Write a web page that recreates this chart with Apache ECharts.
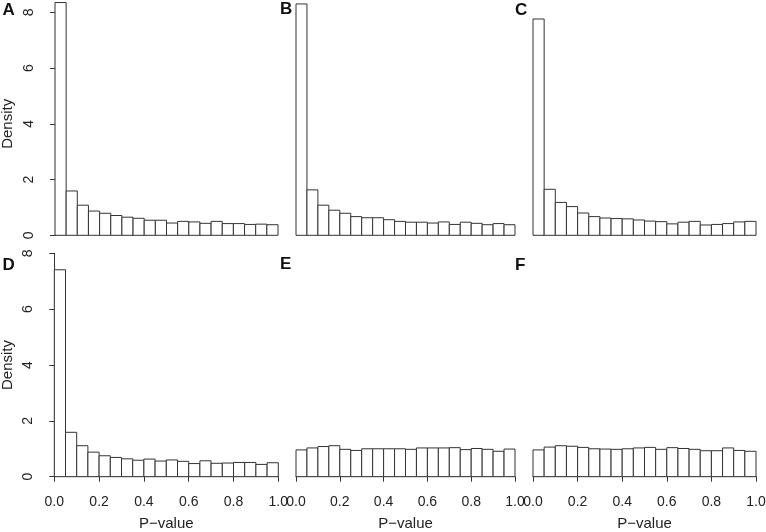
<!DOCTYPE html>
<html>
<head>
<meta charset="utf-8">
<script src="https://cdn.jsdelivr.net/npm/echarts@6/dist/echarts.min.js"></script>
<style>
html,body{margin:0;padding:0;background:#fff;}
#chart{width:766px;height:532px;}
</style>
</head>
<body>
<div id="chart"></div>
<script>
const binEdges = [0,0.05,0.1,0.15,0.2,0.25,0.3,0.35,0.4,0.45,0.5,0.55,0.6,0.65,0.7,0.75,0.8,0.85,0.9,0.95,1.0];
const panelLabels = ['A','B','C','D','E','F'];
const xTickLabels = ['0.0','0.2','0.4','0.6','0.8','1.0'];
const yTickLabels = ['0','2','4','6','8'];
const densityA = [8.35,1.59,1.08,0.87,0.79,0.71,0.65,0.61,0.54,0.54,0.44,0.50,0.48,0.43,0.50,0.42,0.42,0.39,0.40,0.38];
const densityB = [8.30,1.63,1.08,0.90,0.79,0.67,0.63,0.63,0.56,0.50,0.47,0.47,0.44,0.48,0.39,0.47,0.43,0.38,0.42,0.38];
const densityC = [7.76,1.65,1.18,1.03,0.80,0.67,0.62,0.60,0.59,0.55,0.51,0.49,0.41,0.47,0.50,0.37,0.39,0.42,0.48,0.50];
const densityD = [7.41,1.59,1.11,0.88,0.75,0.69,0.64,0.59,0.63,0.56,0.60,0.55,0.47,0.57,0.48,0.49,0.51,0.51,0.44,0.50];
const densityE = [0.96,1.03,1.08,1.11,0.98,0.94,1.00,1.00,1.00,1.00,0.98,1.03,1.03,1.03,1.04,0.97,1.01,0.98,0.91,0.99];
const densityF = [0.96,1.06,1.11,1.09,1.05,1.00,0.99,0.98,1.00,1.03,1.05,0.98,1.04,1.01,0.98,0.93,0.93,1.03,0.94,0.91];
const panels = [densityA, densityB, densityC, densityD, densityE, densityF];

const FONT = "'Liberation Sans', Arial, Helvetica, sans-serif";
const INK = '#333';

// layout (pixels)
const gridBoxes = [
  {left:55,  top:12.3,  width:223, height:223},
  {left:296, top:12.3,  width:219, height:223},
  {left:533, top:12.3,  width:223, height:223},
  {left:54.3,top:253.3, width:224, height:223.4},
  {left:296, top:253.3, width:219, height:223.4},
  {left:533, top:253.3, width:223, height:223.4}
];
const letterPos = [[9,11],[286.5,10],[521.5,10.5],[9,266],[286.5,265],[521.5,265.5]];

const grids = [], xAxes = [], yAxes = [], series = [], graphics = [];
panels.forEach((vals, i) => {
  const row = Math.floor(i/3), col = i % 3;
  grids.push(Object.assign({containLabel:false, outerBoundsMode:'none'}, gridBoxes[i]));
  xAxes.push({
    type:'value', gridIndex:i, min:0, max:1, interval:0.2,
    show: row === 1, offset: 9,
    axisLine:{show:true, lineStyle:{color:INK, width:1}},
    axisTick:{show:true, length:5, lineStyle:{color:INK}},
    axisLabel:{show:true, fontFamily:FONT, fontSize:14, color:'#222', margin:9,
      formatter: v => xTickLabels[Math.round(v/0.2)]},
    splitLine:{show:false},
    name:'P\u2212value', nameLocation:'middle', nameGap:31, nameMoveOverlap:false,
    nameTextStyle:{fontFamily:FONT, fontSize:15, color:'#222'}
  });
  yAxes.push({
    type:'value', gridIndex:i, min:0, max:8, interval:2,
    show: col === 0, offset: 9.3,
    axisLine:{show:true, lineStyle:{color:INK, width:1}},
    axisTick:{show:true, length:5, lineStyle:{color:INK}},
    axisLabel:{show:true, rotate:90, align:'center', verticalAlign:'bottom',
      fontFamily:FONT, fontSize:14, color:'#222', margin:10,
      formatter: v => yTickLabels[Math.round(v/2)]},
    splitLine:{show:false},
    name:'Density', nameLocation:'middle', nameGap:30, nameMoveOverlap:false,
    nameTextStyle:{fontFamily:FONT, fontSize:15, color:'#222'}
  });
  const data = vals.map((v, k) => [binEdges[k], binEdges[k+1], v]);
  series.push({
    type:'custom', xAxisIndex:i, yAxisIndex:i, clip:false,
    encode:{x:[0,1], y:2},
    data: data,
    renderItem: function(params, api){
      const p0 = api.coord([api.value(0), api.value(2)]);
      const p1 = api.coord([api.value(1), 0]);
      return {type:'rect',
        shape:{x:p0[0], y:p0[1], width:p1[0]-p0[0], height:p1[1]-p0[1]},
        style:{fill:'#ffffff', stroke:INK, lineWidth:1}};
    }
  });
  graphics.push({type:'text', left:letterPos[i][0]-6.5, top:letterPos[i][1]-9,
    style:{text:panelLabels[i], font:'bold 17px ' + FONT, fill:'#111'}});
});

const chart = echarts.init(document.getElementById('chart'));
chart.setOption({
  animation:false,
  backgroundColor:'#ffffff',
  grid: grids, xAxis: xAxes, yAxis: yAxes, series: series, graphic: graphics
});
</script>
</body>
</html>
